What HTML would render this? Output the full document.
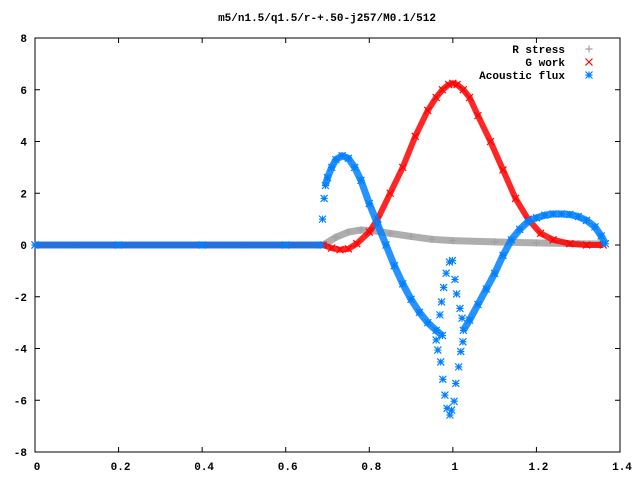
<!DOCTYPE html>
<html><head><meta charset="utf-8">
<style>
body{margin:0;background:#fff;}
svg{display:block;font-family:"Liberation Mono",monospace;font-weight:bold;font-size:11px;}
</style></head>
<body>
<svg id="chart" width="640" height="480" viewBox="0 0 640 480">
<text x="327" y="21" text-anchor="middle">m5/n1.5/q1.5/r-+.50-j257/M0.1/512</text>
<g id="axes"></g>
<g id="series"></g>
<g id="legend"></g>
</svg>
<script>
const xTicks=[0,0.2,0.4,0.6,0.8,1,1.2,1.4];
const xTickLabels=["0","0.2","0.4","0.6","0.8","1","1.2","1.4"];
const yTicks=[-8,-6,-4,-2,0,2,4,6,8];
const yTickLabels=["-8","-6","-4","-2","0","2","4","6","8"];
const rX=[0,0.1,0.2,0.3,0.4,0.5,0.6,0.69,0.72,0.75,0.78,0.81,0.85,0.9,0.95,1.0,1.1,1.2,1.3,1.36];
const rY=[0,0,0,0,0,0,0,0,0.3,0.5,0.58,0.55,0.45,0.33,0.22,0.17,0.12,0.08,0.05,0.04];
const gX=[0,0.2,0.4,0.6,0.69,0.71,0.73,0.75,0.77,0.8,0.82,0.85,0.88,0.91,0.94,0.96,0.975,0.99,1.0,1.01,1.025,1.04,1.06,1.09,1.12,1.15,1.18,1.21,1.24,1.28,1.32,1.36];
const gY=[0,0,0,0,0,-0.12,-0.18,-0.15,0.05,0.5,1.0,2.0,3.0,4.2,5.2,5.7,6.0,6.2,6.25,6.2,6.0,5.7,5.0,4.0,2.9,1.8,1.0,0.45,0.2,0.05,0.0,0.0];
const aX=[0,0.2,0.4,0.6,0.685];
const aY=[0,0,0,0,0];
const a1X=[0.695,0.70,0.71,0.72,0.735,0.75,0.765,0.78,0.80,0.82,0.84,0.86,0.88,0.9,0.92,0.94,0.96,0.975];
const a1Y=[2.3,2.6,3.0,3.3,3.45,3.35,3.0,2.5,1.6,0.8,0,-0.8,-1.5,-2.1,-2.6,-3.0,-3.3,-3.5];
const a2X=[1.025,1.04,1.06,1.08,1.1,1.12,1.14,1.16,1.18,1.2,1.22,1.24,1.26,1.28,1.30,1.32,1.34,1.355,1.365];
const a2Y=[-3.3,-2.9,-2.3,-1.7,-1.1,-0.4,0.2,0.6,0.9,1.05,1.15,1.2,1.2,1.18,1.1,0.95,0.7,0.35,0.05];
const aSX=[0.688,0.692,0.992,0.999,0.984,0.978,0.973,0.969,0.960,0.964,0.971,0.976,0.981,0.986,0.993,1.005,1.009,1.017,1.022,1.024,1.019,1.014,1.007,1.003,0.997];
const aSY=[1.0,1.8,-0.66,-0.6,-1.09,-1.64,-2.2,-2.7,-3.67,-4.06,-4.52,-5.19,-5.8,-6.31,-6.57,-1.33,-1.89,-2.45,-2.83,-3.74,-4.12,-4.71,-5.35,-6.04,-6.38];

const L=35,R=620,T=38,B=452,XMIN=0,XMAX=1.4,YMIN=-8,YMAX=8;
const sx=v=>L+(v-XMIN)/(XMAX-XMIN)*(R-L);
const sy=v=>B-(v-YMIN)/(YMAX-YMIN)*(B-T);
const NS="http://www.w3.org/2000/svg";
function mk(tag,attrs,parent){const e=document.createElementNS(NS,tag);for(const k in attrs)e.setAttribute(k,attrs[k]);parent.appendChild(e);return e;}
const axes=document.getElementById('axes');
const border=mk('rect',{x:L,y:T,width:R-L,height:B-T,fill:'none',stroke:'#000','stroke-width':1},axes);


xTicks.forEach((t,i)=>{
  const x=sx(t);
  const a=mk('line',{x1:x,y1:B,x2:x,y2:B-5,stroke:'#000'},axes);
  
  
  const b=mk('line',{x1:x,y1:T,x2:x,y2:T+5,stroke:'#000'},axes);
  
  
  const tx=mk('text',{x:x+2,y:B+18,'text-anchor':'middle'},axes);tx.textContent=xTickLabels[i];
  
  
});
yTicks.forEach((t,i)=>{
  const y=sy(t);
  const a=mk('line',{x1:L,y1:y,x2:L+5,y2:y,stroke:'#000'},axes);
  
  
  const b=mk('line',{x1:R,y1:y,x2:R-5,y2:y,stroke:'#000'},axes);
  
  
  const tx=mk('text',{x:L-8,y:y+4,'text-anchor':'end'},axes);tx.textContent=yTickLabels[i];
  
  
});
const series=document.getElementById('series');
function marker(kind,x,y,color,g){
  const s=3.5;let d;
  if(kind==='plus')d=`M${x-s} ${y}H${x+s}M${x} ${y-s}V${y+s}`;
  else if(kind==='x')d=`M${x-s} ${y-s}L${x+s} ${y+s}M${x-s} ${y+s}L${x+s} ${y-s}`;
  else d=`M${x-s} ${y}H${x+s}M${x} ${y-s}V${y+s}M${x-s} ${y-s}L${x+s} ${y+s}M${x-s} ${y+s}L${x+s} ${y-s}`;
  return mk('path',{d:d,stroke:color,'stroke-width':1.2,fill:'none'},g);
}
function drawSeries(xs,ys,color,kind,name,lineW,withLine){
  const g=mk('g',{},series);
  
  
  if(withLine){
    const pts=xs.map((v,i)=>sx(v)+','+sy(ys[i])).join(' ');
    const pl=mk('polyline',{points:pts,fill:'none',stroke:color,'stroke-width':lineW,'stroke-linejoin':'round','stroke-opacity':0.85},g);
    
    
  }
  xs.forEach((v,i)=>{
    const m=marker(kind,sx(v),sy(ys[i]),color,g);
    
    
  });
}
drawSeries(rX,rY,'#a0a0a0','plus','r-stress-series',7,true);
drawSeries(gX,gY,'#ff0000','x','g-work-series',6,true);
drawSeries(aX,aY,'#0080ff','star','acoustic-flux-series',7,true);
drawSeries(a1X,a1Y,'#0080ff','star','acoustic-flux-series-left',7,true);
drawSeries(a2X,a2Y,'#0080ff','star','acoustic-flux-series-right',7,true);
drawSeries(aSX,aSY,'#0080ff','star','acoustic-flux-scatter',0,false);
const legend=document.getElementById('legend');
const entries=[["R stress",'#a0a0a0','plus'],["G work",'#ff0000','x'],["Acoustic flux",'#0080ff','star']];
entries.forEach((e,i)=>{
  const y=49+i*13;
  const g=mk('g',{},legend);
  
  
  const t=mk('text',{x:565,y:y+4,'text-anchor':'end'},g);t.textContent=e[0];
  marker(e[2],589,y,e[1],g);
});
</script>
</body></html>
